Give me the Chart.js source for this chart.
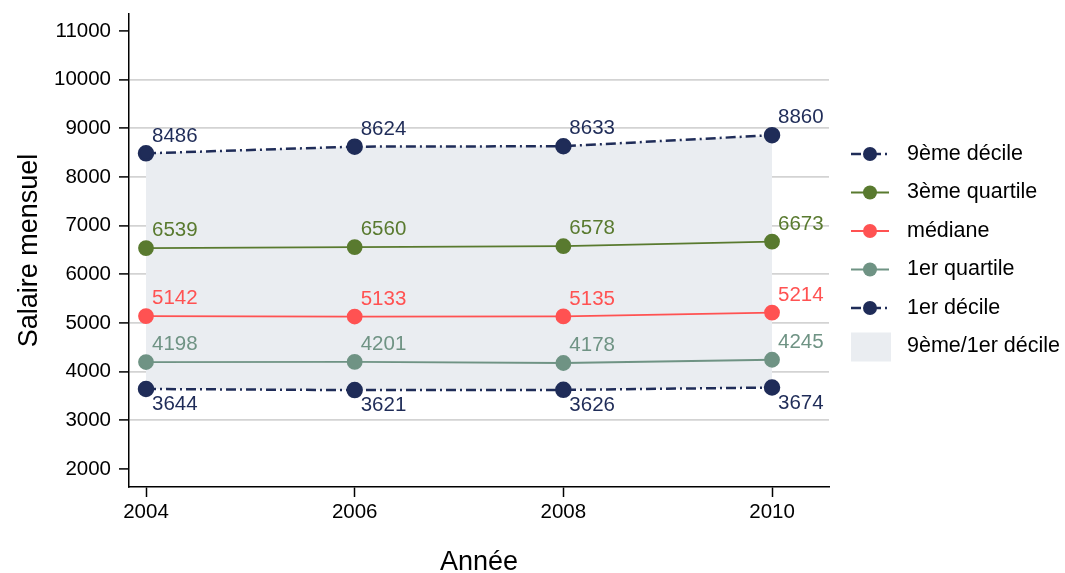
<!DOCTYPE html>
<html>
<head>
<meta charset="utf-8">
<script src="https://cdn.jsdelivr.net/npm/chart.js@4/dist/chart.umd.min.js"></script>
<style>
  html, body { margin: 0; padding: 0; background: #fff; }
  #wrap { width: 1065px; height: 573px; }
</style>
</head>
<body>
<div id="wrap"><canvas id="salaires" width="1065" height="573"></canvas></div>
<script>
const annees = [2004, 2006, 2008, 2010];
const decile9 = [8486, 8624, 8633, 8860];
const quartile3 = [6539, 6560, 6578, 6673];
const mediane = [5142, 5133, 5135, 5214];
const quartile1 = [4198, 4201, 4178, 4245];
const decile1 = [3644, 3621, 3626, 3674];
const noms = ['9ème décile', '3ème quartile', 'médiane', '1er quartile', '1er décile'];
const nomZone = '9ème/1er décile';
const yTicks = [2000, 3000, 4000, 5000, 6000, 7000, 8000, 9000, 10000, 11000];

const navy = '#1f2c58';
const vert = '#597a2f';
const rouge = '#ff5252';
const gris = '#6f9384';
const zone = '#eaedf1';
const police = "'Liberation Sans', Arial, sans-serif";
const tiret = [10, 4, 2, 4];

function pts(vals) {
    return annees.map((a, i) => ({ x: a, y: vals[i] }));
}

function serie(label, vals, color, dashed, below) {
    return {
        label: label,
        data: pts(vals),
        borderColor: color,
        backgroundColor: color,
        pointBackgroundColor: color,
        pointBorderColor: color,
        pointRadius: 7,
        pointHoverRadius: 7,
        borderWidth: dashed ? 2.5 : 1.8,
        borderDash: dashed ? tiret : [],
        fill: false,
        tension: 0,
        labelBelow: below
    };
}

const datasets = [
    serie(noms[0], decile9, navy, true, false),
    serie(noms[1], quartile3, vert, false, false),
    serie(noms[2], mediane, rouge, false, false),
    serie(noms[3], quartile1, gris, false, false),
    serie(noms[4], decile1, navy, true, true)
];
// zone between 9th and 1st decile
datasets[0].fill = { target: 4 };
datasets[0].backgroundColor = zone;

// value labels next to each point
const etiquettes = {
    id: 'etiquettes',
    afterDatasetsDraw(chart) {
        const ctx = chart.ctx;
        ctx.save();
        ctx.font = '20.5px ' + police;
        ctx.textBaseline = 'middle';
        ctx.textAlign = 'left';
        chart.data.datasets.forEach((ds, i) => {
            const meta = chart.getDatasetMeta(i);
            ctx.fillStyle = ds.borderColor;
            meta.data.forEach((p, j) => {
                const dy = ds.labelBelow ? 15.5 : -17.5;
                ctx.fillText(String(ds.data[j].y), p.x + 6, p.y + dy);
            });
        });
        ctx.restore();
    }
};

// legend on the right, line + marker style
const legende = {
    id: 'legende',
    afterDraw(chart) {
        const ctx = chart.ctx;
        const x0 = 851, x1 = 889, xt = 907;
        let y = 154;
        const pas = 38.5;
        ctx.save();
        ctx.font = '21.5px ' + police;
        ctx.textBaseline = 'middle';
        ctx.textAlign = 'left';
        chart.data.datasets.forEach((ds) => {
            ctx.strokeStyle = ds.borderColor;
            ctx.lineWidth = ds.borderWidth;
            ctx.setLineDash(ds.borderDash);
            ctx.beginPath();
            ctx.moveTo(x0, y);
            ctx.lineTo(x1, y);
            ctx.stroke();
            ctx.setLineDash([]);
            ctx.fillStyle = ds.pointBackgroundColor;
            ctx.beginPath();
            ctx.arc((x0 + x1) / 2, y, 7, 0, Math.PI * 2);
            ctx.fill();
            ctx.fillStyle = '#000';
            ctx.fillText(ds.label, xt, y);
            y += pas;
        });
        ctx.fillStyle = zone;
        ctx.fillRect(x0, y - 14, 40, 29);
        ctx.fillStyle = '#000';
        ctx.fillText(nomZone, xt, y);
        ctx.restore();
    }
};

new Chart(document.getElementById('salaires').getContext('2d'), {
    type: 'line',
    data: { datasets: datasets },
    plugins: [etiquettes, legende],
    options: {
        responsive: false,
        animation: false,
        events: [],
        layout: { padding: { top: 14, right: 236, bottom: 0, left: 0 } },
        plugins: {
            legend: { display: false },
            tooltip: { enabled: false },
            filler: { drawTime: 'beforeDatasetsDraw' }
        },
        scales: {
            x: {
                type: 'linear',
                min: 2003.837,
                max: 2010.546,
                afterBuildTicks: (s) => { s.ticks = annees.map(v => ({ value: v })); },
                afterFit: (s) => { s.height = 86; s.paddingLeft = 0; s.paddingRight = 0; },
                border: { color: '#000', width: 1.5 },
                grid: { drawOnChartArea: false, tickLength: 10, tickColor: '#000', tickWidth: 1.5 },
                ticks: {
                    color: '#000',
                    padding: 3,
                    font: { family: police, size: 20.5 },
                    maxRotation: 0,
                    callback: (v) => String(v)
                },
                title: {
                    display: true,
                    text: 'Année',
                    color: '#000',
                    font: { family: police, size: 27, lineHeight: 0.8 },
                    padding: { top: 0, bottom: 0 }
                }
            },
            y: {
                min: 1630,
                max: 11350,
                afterBuildTicks: (s) => { s.ticks = yTicks.map(v => ({ value: v })); },
                afterFit: (s) => { s.width = 129; s.paddingTop = 0; s.paddingBottom = 0; },
                border: { color: '#000', width: 1.5 },
                grid: {
                    color: (c) => (c.tick && (c.tick.value === 2000 || c.tick.value === 11000)) ? 'rgba(0,0,0,0)' : '#d3d3d3',
                    lineWidth: 1.8,
                    tickLength: 10,
                    tickColor: '#000',
                    tickWidth: 1.5
                },
                ticks: {
                    color: '#000',
                    padding: 8,
                    font: { family: police, size: 20.5 },
                    callback: (v) => String(v)
                },
                title: {
                    display: true,
                    text: 'Salaire mensuel',
                    color: '#000',
                    font: { family: police, size: 27, lineHeight: 1 },
                    padding: { top: 16.5, bottom: 0 }
                }
            }
        }
    }
});
</script>
</body>
</html>
